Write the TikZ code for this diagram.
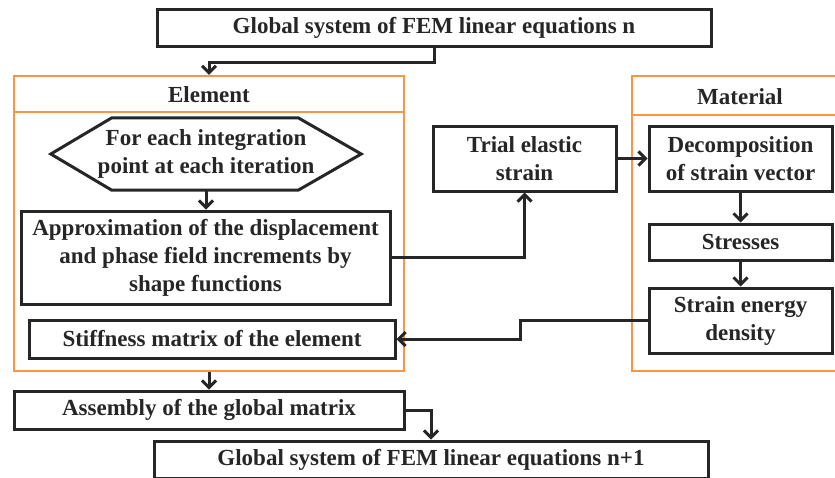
\documentclass[tikz,border=0pt]{standalone}
\usepackage{fontspec}
\setmainfont{Liberation Serif}
\usetikzlibrary{arrows.meta}
\definecolor{ink}{HTML}{262626}
\definecolor{frameorange}{HTML}{F79646}
\begin{document}
\begin{tikzpicture}[x=1pt,y=-1pt,
  txt/.style={font=\fontsize{23}{28}\selectfont\bfseries, text=ink, align=center, inner sep=0pt},
  box/.style={txt, draw=ink, line width=3pt, rectangle, anchor=center},
  frame/.style={draw=frameorange, line width=2.2pt, rectangle, inner sep=0pt},
  conn/.style={draw=ink, line width=3pt},
  arr/.style={conn, -{Straight Barb[length=7pt,width=14pt,line width=3pt]}},
]
\useasboundingbox (0,0) rectangle (835,477);

% frames
\node[frame, minimum width=390pt, minimum height=295pt] (elem) at (209,223.5) {};
\draw[frameorange, line width=2.2pt] (elem.west |- 0,112) -- (elem.east |- 0,112);
\node[txt] (elemtitle) at (209,95) {Element};

\node[frame, minimum width=206pt, minimum height=295pt] (mat) at (735,223.5) {};
\draw[frameorange, line width=2.2pt] (mat.west |- 0,115) -- (mat.east |- 0,115);
\node[txt] (mattitle) at (740,97) {Material};

% boxes
\node[box, minimum width=554pt, minimum height=37pt] (top) at (434,27.5) {Global system of FEM linear equations n};
\node[txt, minimum width=310pt, minimum height=72pt] (hex) at (206,154) {For each integration\\point at each iteration};
\draw[ink, line width=3pt, line join=miter]
  (hex.west) -- ([xshift=61pt]hex.north west) -- ([xshift=-63pt]hex.north east)
  -- (hex.east) -- ([xshift=-63pt]hex.south east) -- ([xshift=61pt]hex.south west) -- cycle;
\node[box, minimum width=369pt, minimum height=93pt] (approx) at (205.5,257.5) {Approximation of the displacement\\and phase field increments by\\shape functions};
\node[box, minimum width=366pt, minimum height=38pt] (stiff) at (212,339) {Stiffness matrix of the element};
\node[box, minimum width=390pt, minimum height=38pt] (asm) at (209,410) {Assembly of the global matrix};
\node[box, minimum width=554pt, minimum height=37pt] (bot) at (431,459.5) {Global system of FEM linear equations n+1};

\node[box, minimum width=183pt, minimum height=65pt] (trial) at (524.5,158.5) {Trial elastic\\strain};
\node[box, minimum width=183pt, minimum height=65pt] (decomp) at (740.5,158.5) {Decomposition\\of strain vector};
\node[box, minimum width=183pt, minimum height=36pt] (stress) at (740.5,242) {Stresses};
\node[box, minimum width=183pt, minimum height=65pt] (sed) at (740.5,320.5) {Strain energy\\density};

% connectors
\draw[arr] (top.south) -- ++(0,15) -| (elem.north);
\draw[arr] (hex.south) -- (hex.south |- approx.north);
\draw[arr] (approx.east) -| (trial.south);
\draw[arr] (trial.east) -- (decomp.west);
\draw[arr] (decomp.south) -- (stress.north);
\draw[arr] (stress.south) -- (sed.north);
\draw[arr] (sed.west) -- ++(-127,0) |- (stiff.east);
\draw[arr] (elem.south) -- (asm.north);
\draw[arr] (asm.east) -| (bot.north);
\end{tikzpicture}
\end{document}
